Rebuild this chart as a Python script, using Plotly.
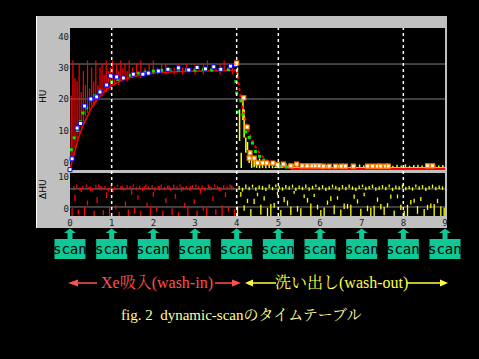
import plotly.graph_objects as go

# ---------------- data ----------------
x_ticks = [0, 1, 2, 3, 4, 5, 6, 7, 8, 9]
x_range = [0, 9]
scan_times = [0, 1, 2, 3, 4, 5, 6, 7, 8, 9]
marker_lines = [1, 4, 5, 8]

# upper panel: wash-in raw data (vertical red strokes)
wi_x = [0.03,0.07,0.12,0.17,0.22,0.27,0.32,0.37,0.42,0.47,
        0.52,0.57,0.62,0.67,0.72,0.77,0.82,0.87,0.92,0.97,
        1.02,1.07,1.12,1.17,1.22,1.27,1.32,1.37,1.42,1.5,
        1.6,1.7,1.8,1.9,2.0,2.1,2.2,2.3,2.4,2.5,
        2.6,2.7,2.8,2.9,3.0,3.1,3.2,3.3,3.4,3.5,
        3.6,3.7,3.8,3.9]
wi_lo = [2,3,6,8,10,12,13,15,16,17,
         18,18,19,20,21,21,22,22,23,23,
         24,24,25,24,25,25,26,25,26,26,
         27,26,27,27,27,27,28,27,28,27,
         28,27,28,28,27,28,27,28,28,28,
         27,28,28,27]
wi_hi = [21,31,26,25,30,22,28,24,31,23,
         29,25,31,24,29,30,27,31,28,29,
         31,27,30,28,31,29,30,28,31,29,
         30,31,29,30,31,29,30,30,29,29,
         30,29,30,29,30,29,30,31,30,29,
         30,31,30,29]

# upper panel: wash-out raw data (vertical yellow strokes)
wo_x = [4.02,4.07,4.11,4.15,4.18,4.22,4.26,4.3,4.36,4.42,
        4.48,4.55,4.62,4.7,4.78,4.86,4.94,5.02,5.1,5.18,
        5.26,5.35,5.45,5.55,5.65,5.75,5.85,5.95,6.05,6.15,
        6.25,6.35,6.45,6.55,6.65,6.75,6.85,6.95,7.05,7.15,
        7.25,7.35,7.45,7.55,7.65,7.75,7.85,7.95,8.05,8.15,
        8.25,8.35,8.45,8.55,8.65,8.75,8.85,8.95]
wo_lo = [26,8,0.3,14,9,4.6,5.4,1.7,0.3,0.5,
         0.3,0.2,0.3,0.2,0.3,0.2,0.3,0.2,0.3,0.2,
         0.3,0.2,0.3,0.2,0.3,0.2,0.3,0.2,0.3,0.2,
         0.3,0.2,0.3,0.2,0.3,0.2,0.3,0.2,0.3,0.2,
         0.3,0.2,0.3,0.2,0.3,0.2,0.3,0.2,0.3,0.2,
         0.3,0.2,0.3,0.2,0.3,0.2,0.3,0.2]
wo_hi = [29,17,4.6,20,17,9,7.7,5.4,3.4,3.0,
         2.6,3.0,2.0,2.2,1.8,2.0,1.5,1.8,1.2,1.6,
         1.1,1.4,1.0,1.3,0.9,1.2,1.0,1.4,0.9,1.1,
         1.3,0.9,1.2,1.0,1.4,0.9,1.1,1.3,1.0,1.2,
         0.9,1.3,1.0,1.1,1.4,0.9,1.2,1.0,1.3,0.9,
         1.1,1.2,1.0,1.4,0.9,1.2,1.0,1.1]
wo_floor_x = [4.9, 9.0]
wo_floor_y = [0.4, 0.4]

# fitted curves
win_fx = [0,0.1,0.2,0.3,0.4,0.5,0.6,0.7,0.8,0.9,1.0,1.2,1.4,1.6,1.8,2.0,2.5,3.0,3.5,4.0]
win_fy = [0,4.8,8.8,12.1,14.8,17.1,19.0,20.5,21.8,22.9,23.8,25.1,26.0,26.6,27.1,27.4,27.8,28.0,28.1,28.2]
wout_fx = [4.0,4.05,4.1,4.15,4.2,4.25,4.3,4.4,4.5,4.6,4.7,4.8,4.9,5.0,5.1,5.2,5.35]
wout_fy = [28.2,23.7,20.1,17.0,14.4,12.2,10.3,7.4,5.3,3.8,2.7,1.9,1.4,1.0,0.7,0.5,0.3]
base_x = [5.3, 9.0]
base_y = [0.0, 0.0]

# white/blue points (wash-in)
wi_px = [0,0.05,0.17,0.25,0.35,0.5,0.64,0.72,0.88,0.97,1.12,1.28,1.52,1.75,1.88,
         2.12,2.35,2.6,2.85,3.05,3.25,3.45,3.62,3.85,3.97]
wi_py = [-0.2,2.9,11.7,13.0,18,20,20.6,22,24,26.6,26.3,26,27.1,27.1,27.4,
         28,28.5,28.9,28.3,29.0,28.6,29.2,28.5,29.4,29.8]
# green points
gi_x = [0.03,0.1,0.18,0.25,0.31,0.4,0.5,0.6,0.72,0.85,1.0,1.15,1.3,1.45,1.64,1.8,
        2.0,2.2,2.4,2.6,2.8,3.0,3.2,3.4,3.6,3.8]
gi_y = [5.5,8.9,11,13.5,16,17.5,19.7,21,22.5,23.8,24.9,25.6,26.2,26.8,27.4,27.7,
        28,28.2,28.3,28.3,28.4,28.3,28.4,28.3,28.4,28.4]
go_x = [3.98,4.0,4.02,4.1,4.15,4.22,4.3,4.38,4.45,4.55,4.65,4.75,4.85,4.95,5.05,5.2]
go_y = [25,21.7,16.3,19.5,15.5,10.6,9.0,7.4,5.0,3.6,2.5,1.8,1.3,1.0,0.8,0.6]
# orange/white points (wash-out)
wo_px = [4.0,4.17,4.25,4.32,4.3,4.42,4.5,4.62,4.72,4.87,4.98,5.12,5.3,5.44,5.57,5.69,5.81,
         5.89,5.98,6.08,6.22,6.37,6.51,6.61,6.8,7.14,7.26,7.38,7.45,7.57,7.64,8.58,8.7]
wo_py = [30.3,20.3,12.0,4.6,3.1,3.1,1.7,1.7,1.7,1.7,1.2,1.4,0.9,1.4,0.9,0.9,0.9,
         0.9,0.9,0.8,0.8,0.8,0.8,0.8,0.8,0.8,0.8,0.8,0.8,0.8,0.8,0.9,0.9]

# lower panel: residual strokes (red, wash-in)
rl_x = [0.05,0.12,0.2,0.27,0.35,0.42,0.5,0.58,0.65,0.72,
        0.8,0.88,0.95,1.03,1.1,1.18,1.25,1.33,1.4,1.48,
        1.55,1.63,1.7,1.78,1.85,1.93,2.0,2.08,2.15,2.23,
        2.3,2.38,2.45,2.53,2.6,2.68,2.75,2.83,2.9,2.98,
        3.05,3.13,3.2,3.28,3.35,3.43,3.5,3.58,3.65,3.73,
        3.8,3.88,3.95]
rl_lo = [0.0,3.5,0.3,5.6,0.0,2.5,5.8,0.0,3.0,6.0,
         0.2,4.2,0.0,5.5,1.5,0.0,6.2,2.2,0.0,5.0,
         0.5,3.8,0.0,6.0,2.0,0.0,4.5,1.0,5.9,0.0,
         3.0,6.1,0.2,4.0,0.0,5.7,1.8,0.0,6.0,2.8,
         0.0,5.2,1.2,0.0,6.0,3.5,0.3,5.8,0.0,4.4,
         1.0,6.1,0.0]
rl_hi = [1.8,5.0,1.5,6.6,2.2,3.6,6.9,1.2,4.4,7.0,
         1.4,5.5,2.0,6.4,2.6,1.0,7.1,3.4,1.5,6.3,
         2.0,4.8,1.2,7.0,3.1,2.3,5.6,2.0,6.9,1.3,
         4.2,7.1,1.8,5.1,0.9,6.8,3.0,2.0,7.0,3.9,
         1.3,6.4,2.4,1.8,7.0,4.6,1.6,6.8,2.5,5.5,
         2.2,7.1,1.6]
rb_x = [0.09,0.16,0.24,0.31,0.39,0.46,0.54,0.62,0.69,0.76,
        0.84,0.92,0.99,1.07,1.14,1.22,1.29,1.37,1.44,1.52,
        1.59,1.67,1.74,1.82,1.89,1.97,2.04,2.12,2.19,2.27,
        2.34,2.42,2.49,2.57,2.64,2.72,2.79,2.87,2.94,3.02,
        3.09,3.17,3.24,3.32,3.39,3.47,3.54,3.62,3.69,3.77,
        3.84,3.92]
rb_lo = [6.0,6.5,5.8,6.3,6.7,6.1,5.9,6.4,6.6,6.0,
         6.2,5.7,6.5,6.0,6.8,6.1,5.9,6.4,6.2,6.6,
         6.0,6.3,5.8,6.7,6.1,6.4,5.9,6.2,6.6,6.0,
         6.3,5.8,6.5,6.1,6.7,6.0,6.2,5.9,6.4,6.6,
         6.1,6.3,5.8,6.5,6.0,6.7,6.2,5.9,6.4,6.1,
         6.5,6.0]
rb_hi = [6.9,7.3,6.6,7.1,7.3,6.8,6.5,7.2,7.3,6.9,
         7.0,6.5,7.3,6.8,7.3,6.9,6.7,7.2,7.0,7.3,
         6.8,7.1,6.6,7.3,6.9,7.2,6.7,7.0,7.3,6.8,
         7.1,6.6,7.3,6.9,7.3,6.8,7.0,6.7,7.2,7.3,
         6.9,7.1,6.6,7.3,6.8,7.3,7.0,6.7,7.2,6.9,
         7.3,6.8]

# lower panel: residual strokes (yellow, wash-out)
yl_x = [4.02,4.1,4.18,4.26,4.34,4.42,4.5,4.58,4.66,4.74,
        4.82,4.9,4.98,5.06,5.14,5.22,5.3,5.38,5.46,5.54,
        5.62,5.7,5.78,5.86,5.94,6.02,6.1,6.18,6.26,6.34,
        6.42,6.5,6.58,6.66,6.74,6.82,6.9,6.98,7.06,7.14,
        7.22,7.3,7.38,7.46,7.54,7.62,7.7,7.78,7.86,7.94,
        8.02,8.1,8.18,8.26,8.34,8.42,8.5,8.58,8.66,8.74,
        8.82,8.9,8.98]
yl_lo = [0.0,4.5,1.2,3.0,0.0,2.8,4.6,0.3,3.6,0.0,
         0.0,1.9,4.8,0.0,3.2,2.4,0.2,5.2,1.0,0.0,
         4.2,3.1,0.0,4.4,1.5,0.0,0.0,2.6,3.5,0.4,
         3.8,0.0,1.6,1.7,0.0,4.0,2.9,0.0,4.6,1.1,
         0.0,0.0,3.3,1.5,0.2,2.0,4.0,0.0,4.1,1.4,
         0.0,0.0,2.7,3.1,0.5,3.5,0.0,1.4,1.8,0.0,
         3.0,0.0,0.0]
yl_hi = [2.2,5.6,2.5,4.0,1.6,4.0,5.4,2.6,4.6,1.9,
         2.8,3.0,5.6,1.4,4.4,3.6,2.2,5.8,2.3,1.8,
         5.0,4.2,2.9,5.2,2.6,1.4,2.0,3.6,4.6,2.5,
         4.6,1.5,2.9,2.8,2.6,5.0,3.9,1.7,5.4,2.4,
         1.9,2.4,4.3,2.8,2.1,3.0,5.0,1.3,5.0,2.6,
         1.2,2.6,3.7,4.0,2.3,4.4,1.6,2.6,2.9,2.8,
         4.0,2.2,1.9]
yb_x = [4.06,4.14,4.22,4.3,4.38,4.46,4.54,4.62,4.7,4.78,
        4.86,4.94,5.02,5.1,5.18,5.26,5.34,5.42,5.5,5.58,
        5.66,5.74,5.82,5.9,5.98,6.06,6.14,6.22,6.3,6.38,
        6.46,6.54,6.62,6.7,6.78,6.86,6.94,7.02,7.1,7.18,
        7.26,7.34,7.42,7.5,7.58,7.66,7.74,7.82,7.9,7.98,
        8.06,8.14,8.22,8.3,8.38,8.46,8.54,8.62,8.7,8.78,
        8.86,8.94]
yb_lo = [6.1,5.7,6.4,6.0,6.6,5.9,6.3,6.1,5.8,6.5,
         6.0,6.7,6.2,5.9,6.4,6.1,6.6,5.8,6.3,6.0,
         6.5,5.9,6.2,6.7,6.0,6.4,5.8,6.1,6.6,6.2,
         5.9,6.4,6.0,6.5,6.1,5.8,6.3,6.7,6.0,6.2,
         6.5,5.9,6.1,6.4,6.0,6.6,5.8,6.3,6.1,6.5,
         6.0,6.2,5.9,6.6,6.1,6.4,5.8,6.2,6.5,6.0,
         6.3,6.1]
yb_hi = [7.0,6.6,7.3,6.8,7.3,6.7,7.1,7.0,6.6,7.3,
         6.8,7.3,7.0,6.7,7.2,6.9,7.3,6.6,7.1,6.8,
         7.3,6.7,7.0,7.3,6.8,7.2,6.6,6.9,7.3,7.0,
         6.7,7.2,6.8,7.3,6.9,6.6,7.1,7.3,6.8,7.0,
         7.3,6.7,6.9,7.2,6.8,7.3,6.6,7.1,6.9,7.3,
         6.8,7.0,6.7,7.3,6.9,7.2,6.6,7.0,7.3,6.8,
         7.1,6.9]

up_tickvals = [1.7, 10.9, 20, 29, 37.7]
up_ticktext = ["0", "10", "20", "30", "40"]
up_grid = [20, 30]
lo_tickvals = [1.6, 9.1]
lo_ticktext = ["0", "10"]
lo_grid = [2.1, 6.3]

label_in = "Xe吸入(wash-in)"
label_out = "洗い出し(wash-out)"
caption = "fig. 2  dynamic-scanのタイムテーブル"

# ---------------- layout geometry ----------------
W, H = 479, 359
L, R, T, B = 70, 34, 28, 143
PW, PH = W - L - R, H - T - B


def px(x):
    return (x - L) / PW


def py(y):
    return (H - B - y) / PH


def segs(xs, lo, hi):
    X, Y = [], []
    for x, a, b in zip(xs, lo, hi):
        X += [x, x, None]
        Y += [a, b, None]
    return X, Y


RED = "#ff0000"
YEL = "#ffff00"
GRN = "#00e800"

fig = go.Figure()

sx, sy = segs(wi_x, wi_lo, wi_hi)
fig.add_trace(go.Scatter(x=sx, y=sy, mode="lines", line=dict(color=RED, width=1.2),
                         xaxis="x", yaxis="y", hoverinfo="skip"))
sx, sy = segs(wo_x, wo_lo, wo_hi)
fig.add_trace(go.Scatter(x=sx, y=sy, mode="lines", line=dict(color=YEL, width=1.5),
                         xaxis="x", yaxis="y", hoverinfo="skip"))
fig.add_trace(go.Scatter(x=wo_floor_x, y=wo_floor_y, mode="lines", line=dict(color=YEL, width=1),
                         xaxis="x", yaxis="y"))
fig.add_trace(go.Scatter(x=win_fx, y=win_fy, mode="lines", line=dict(color=RED, width=1.5),
                         xaxis="x", yaxis="y"))
fig.add_trace(go.Scatter(x=wout_fx, y=wout_fy, mode="lines",
                         line=dict(color=RED, width=1.8, dash="dot"), xaxis="x", yaxis="y"))
fig.add_trace(go.Scatter(x=base_x, y=base_y, mode="lines", line=dict(color=RED, width=2.5),
                         xaxis="x", yaxis="y", cliponaxis=False))
fig.add_trace(go.Scatter(x=gi_x + go_x, y=gi_y + go_y, mode="markers",
                         marker=dict(symbol="square", size=3, color=GRN, line=dict(width=0)),
                         xaxis="x", yaxis="y"))
fig.add_trace(go.Scatter(x=wi_px, y=wi_py, mode="markers",
                         marker=dict(symbol="square", size=4, color="#ffffff",
                                     line=dict(color="#0000ff", width=1)),
                         xaxis="x", yaxis="y", cliponaxis=False))
fig.add_trace(go.Scatter(x=wo_px, y=wo_py, mode="markers",
                         marker=dict(symbol="square", size=4, color="#ffffff",
                                     line=dict(color="#ff8000", width=1.2)),
                         xaxis="x", yaxis="y"))

for xs, lo, hi, col in [(rl_x, rl_lo, rl_hi, RED), (rb_x, rb_lo, rb_hi, RED),
                        (yl_x, yl_lo, yl_hi, YEL), (yb_x, yb_lo, yb_hi, YEL)]:
    sx, sy = segs(xs, lo, hi)
    fig.add_trace(go.Scatter(x=sx, y=sy, mode="lines", line=dict(color=col, width=1.3),
                             xaxis="x2", yaxis="y2", hoverinfo="skip"))

shapes = []
# grey instrument panel + black plotting windows
shapes.append(dict(type="rect", xref="paper", yref="paper", x0=px(36), x1=px(447),
                   y0=py(228), y1=py(16), fillcolor="#c0c0c0", line=dict(width=0), layer="below"))
shapes.append(dict(type="line", xref="paper", yref="paper", x0=px(36.5), x1=px(36.5),
                   y0=py(228), y1=py(16), line=dict(color="#ffffff", width=1), layer="below"))
shapes.append(dict(type="rect", xref="paper", yref="paper", x0=0, x1=1,
                   y0=py(170), y1=1, fillcolor="#000000", line=dict(width=0), layer="below"))
shapes.append(dict(type="rect", xref="paper", yref="paper", x0=0, x1=1,
                   y0=0, y1=py(173), fillcolor="#000000", line=dict(width=0), layer="below"))
for g in up_grid:
    shapes.append(dict(type="line", xref="x", yref="y", x0=x_range[0], x1=x_range[1], y0=g, y1=g,
                       line=dict(color="#808080", width=1), layer="below"))
for g in lo_grid:
    shapes.append(dict(type="line", xref="x2", yref="y2", x0=x_range[0], x1=x_range[1], y0=g, y1=g,
                       line=dict(color="#808080", width=1), layer="below"))
for v in marker_lines:
    shapes.append(dict(type="line", xref="x", yref="paper", x0=v, x1=v, y0=0, y1=1,
                       line=dict(color="#ffffff", width=1.5, dash="dot")))

# scan boxes with up arrows
BOX = "#10c896"
annotations = []
for t in scan_times:
    xc = (t - x_range[0]) / (x_range[1] - x_range[0])
    hw = 15.5 / PW
    shapes.append(dict(type="rect", xref="paper", yref="paper", x0=xc - hw, x1=xc + hw,
                       y0=py(259), y1=py(239), fillcolor=BOX, line=dict(width=0)))
    sw, hh = 2.5 / PW, 6 / PW
    path = (f"M {xc-sw},{py(239)} L {xc-sw},{py(233)} L {xc-hh},{py(233)} L {xc},{py(228.5)} "
            f"L {xc+hh},{py(233)} L {xc+sw},{py(233)} L {xc+sw},{py(239)} Z")
    shapes.append(dict(type="path", xref="paper", yref="paper", path=path,
                       fillcolor=BOX, line=dict(width=0)))
    annotations.append(dict(x=t, xref="x", y=py(249.5), yref="paper", text="scan",
                            showarrow=False, xanchor="center", yanchor="middle",
                            font=dict(family="DejaVu Sans Mono", size=14, color="#000000")))


def tri(tip, base, y, half, color):
    return dict(type="path", xref="paper", yref="paper",
                path=f"M {px(tip)},{py(y)} L {px(base)},{py(y-half)} L {px(base)},{py(y+half)} Z",
                fillcolor=color, line=dict(width=0))


def hline(x0, x1, y, color):
    return dict(type="line", xref="paper", yref="paper", x0=px(x0), x1=px(x1), y0=py(y), y1=py(y),
                line=dict(color=color, width=1.5))


RT = "#ff5050"
YT = "#ffff40"
ay = 283
shapes += [tri(68, 78, ay, 3.5, RT), hline(78, 97, ay, RT), hline(215, 233, ay, RT),
           tri(241, 232, ay, 3.5, RT),
           tri(245, 253, ay, 3.5, YT), hline(253, 276, ay, YT), hline(407, 441, ay, YT),
           tri(448, 440, ay, 3.5, YT)]

FONT = "Liberation Serif, Noto Serif CJK JP, Noto Sans CJK JP"


def note(xp, yp, text, size, color, family=FONT, angle=0):
    return dict(x=px(xp), y=py(yp), xref="paper", yref="paper", text=text, textangle=angle,
                showarrow=False, xanchor="center", yanchor="middle",
                font=dict(family=family, size=size, color=color))


annotations.append(note(156.5, ay, label_in, 16, RT))
annotations.append(note(341, ay, label_out, 16, YT))
annotations.append(note(241, 315, caption, 15, "#ffff99"))
annotations.append(note(43, 97, "HU", 9, "#000000", "DejaVu Sans", -90))
annotations.append(note(43, 189, "ΔHU", 9, "#000000", "DejaVu Sans", -90))

tickfont = dict(family="DejaVu Sans Mono", size=9, color="#202020")
fig.update_layout(
    width=W, height=H, autosize=False,
    margin=dict(l=L, r=R, t=T, b=B, pad=0),
    paper_bgcolor="#000000", plot_bgcolor="rgba(0,0,0,0)",
    showlegend=False,
    xaxis=dict(domain=[0, 1], range=x_range, anchor="y", showticklabels=False, showgrid=False,
               zeroline=False, showline=False, ticks=""),
    yaxis=dict(domain=[py(170), 1], range=[-0.3, 40.3], tickvals=up_tickvals, ticktext=up_ticktext,
               tickfont=tickfont, showgrid=False, zeroline=False, showline=False, ticks=""),
    xaxis2=dict(domain=[0, 1], range=x_range, anchor="y2", tickvals=x_ticks,
                ticktext=[str(v) for v in x_ticks], tickfont=tickfont, showgrid=False,
                zeroline=False, showline=False, ticks=""),
    yaxis2=dict(domain=[0, py(173)], range=[0, 10], anchor="x2", tickvals=lo_tickvals,
                ticktext=lo_ticktext, tickfont=tickfont, showgrid=False, zeroline=False,
                showline=False, ticks=""),
    shapes=shapes, annotations=annotations,
)

fig.write_html("out.html", config={"displayModeBar": False},
               post_script="document.body.style.margin='0';document.body.style.background='#000';")
